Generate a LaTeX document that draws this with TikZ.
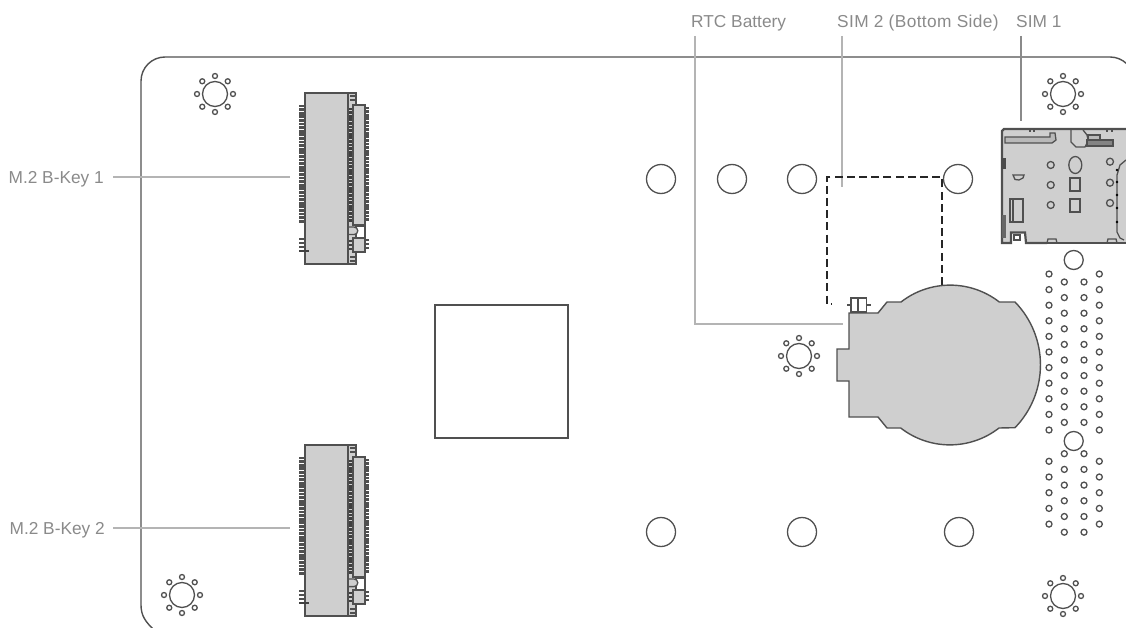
\documentclass[tikz,border=0pt]{standalone}
\usepackage{fontspec}
\setmainfont{Liberation Sans}
\definecolor{lbl}{HTML}{8A8A8A}
\definecolor{lead}{HTML}{B4B4B4}
\definecolor{edge}{HTML}{505050}
\definecolor{comp}{HTML}{CFCFCF}
\definecolor{pin}{HTML}{505050}
\tikzset{
  lab/.style={font=\fontsize{17.3}{19}\selectfont,text=lbl,inner sep=0pt},
  leader/.style={draw=lead,line width=1.4pt},
  boardline/.style={draw=edge,line width=1.4pt},
  hole/.style={draw=edge,line width=1.3pt,fill=white},
  tiny/.style={draw=pin,line width=1.3pt,fill=white},
  part/.style={draw=edge,line width=1.4pt,fill=comp},
  partin/.style={draw=pin,line width=1.3pt},
  pinbar/.style={draw=pin,line width=2.8pt},
  darkbar/.style={draw=black!75,line width=2.8pt},
  hidden/.style={draw=black!85,line width=1.3pt,dash pattern=on 8pt off 4.2pt}
}
\newcommand{\mountpt}[2]{%
  \draw[hole] (#1,#2) circle (12.5);
  \foreach \a in {0,45,...,315}
    \draw[tiny] ({#1+18*cos(\a)},{#2+18*sin(\a)}) circle (2.5);
}
\newcommand{\mtwo}[1]{%
  \begin{scope}[yshift=#1pt]
    \foreach \y in {106,109.6,...,222.5} \draw[pinbar] (299,\y) -- (305,\y);
    \foreach \y in {239,243,247} \draw[pinbar] (299,\y) -- (305,\y);
    \draw[part] (305,93) rectangle (348,264);
    \draw[part] (348,93) rectangle (356,264);
    \foreach \y in {109,112.6,...,224} \draw[darkbar] (349,\y) -- (353,\y);
    \foreach \y in {241,245,249} \draw[darkbar] (349,\y) -- (353,\y);
    \foreach \y in {108,111.6,...,222} \draw[pinbar] (365,\y) -- (369,\y);
    \foreach \y in {240,244,248} \draw[pinbar] (365,\y) -- (369,\y);
    \draw[part] (353,105) rectangle (365,225);
    \draw[part] (353,238) rectangle (365,252);
    \draw[partin,fill=white] (356,226) -- (365,226) -- (365,238) -- (356,238) -- cycle;
    \draw[partin,fill=comp] (349,227) -- (354,227) arc (-90:90:3.8) -- (349,234.6);
    \draw[pinbar] (350,96) -- (355,96);
    \draw[pinbar] (350,100) -- (355,100);
    \draw[pinbar] (350,257) -- (355,257);
    \draw[pinbar] (350,261) -- (355,261);
    \draw[darkbar] (299,251) -- (309,251);
  \end{scope}
}
\begin{document}
\begin{tikzpicture}[x=1pt,y=1pt,yscale=-1]
\useasboundingbox (0,0) rectangle (1126,628);
\begin{scope}
\clip (0,0) rectangle (1126,628);
% board
\draw[boardline] (153,629) .. controls (146,622) and (141,616) .. (141,605) -- (141,81)
  arc[start angle=180,end angle=270,radius=24] -- (1110,57)
  arc[start angle=270,end angle=360,radius=24];

% labels and leaders
\node[lab,anchor=base west] (rtcl) at (691,27.5) {RTC Battery};
\node[lab,anchor=base west] (sim2l) at (837,27.5) {\addfontfeature{LetterSpace=2.2}SIM 2 (Bottom Side)};
\node[lab,anchor=base west] (sim1l) at (1016,27.5) {SIM 1};
\node[lab,anchor=base east] (m1l) at (104,184) {M.2 B-Key 1};
\node[lab,anchor=base east] (m2l) at (105,534) {M.2 B-Key 2};
\coordinate (rtcs) at (695,36);
\coordinate (rtce) at (843,324);
\coordinate (sim2s) at (842,36);
\coordinate (sim2e) at (842,187);
\coordinate (sim1s) at (1021,36);
\coordinate (sim1e) at (1021,121);
\coordinate (m1s) at (113,177);
\coordinate (m1e) at (290,177);
\coordinate (m2s) at (113,528);
\coordinate (m2e) at (290,528);
\draw[leader] (rtcs) |- (rtce);
\draw[leader] (sim2s) -- (sim2e);
\draw[leader,draw=lbl,line width=1.1pt] (sim1s) -- (sim1e);
\draw[leader] (m1s) -- (m1e);
\draw[leader] (m2s) -- (m2e);

% chip
\draw[draw=edge,line width=1.2pt,fill=white] (435,305) rectangle (568,438);

% large holes
\foreach \x/\y in {661/179,732/179,802/179,958/179,661/532,802/532,959/532}
  \draw[hole] (\x,\y) circle (14.5);

% mounts
\mountpt{215}{94}
\mountpt{1063}{94}
\mountpt{799}{356}
\mountpt{182}{595}
\mountpt{1063}{596}

% M.2 connectors
\mtwo{0}
\mtwo{352}

% SIM 2 outline
\draw[hidden] (942,285) -- (942,177) -- (827,177) -- (827,304) -- (831,304);

% battery
\draw[draw=edge,line width=1.1pt] (851,298) rectangle (857.3,312);
\draw[draw=edge,line width=1.1pt] (858.5,298) rectangle (866.7,312);
\draw[draw=edge,line width=1.1pt] (847,305) -- (851,305) (866.7,305) -- (871,305);
\draw[part] (849,313) -- (878,313) -- (887,302) -- (901,302)
  arc[start angle=-127.9,end angle=-52.1,radius=80] -- (1015,302)
  arc[start angle=-44.1,end angle=44.1,radius=90.3] -- (999,428)
  arc[start angle=52.1,end angle=127.9,radius=80] -- (887,428) -- (878,417) -- (849,417)
  -- (849,381) -- (837,381) -- (837,349) -- (849,349) -- cycle;

% header
\foreach \x in {1049,1099.3} {
  \foreach \n in {0,...,10} \draw[tiny] (\x,{274+15.6*\n}) circle (3);
  \foreach \n in {0,...,4} \draw[tiny] (\x,{461.3+15.7*\n}) circle (3);
}
\foreach \x in {1064.3,1084} {
  \foreach \n in {0,...,9} \draw[tiny] (\x,{282+15.6*\n}) circle (3);
  \foreach \n in {0,...,5} \draw[tiny] (\x,{453.7+15.7*\n}) circle (3);
}
\draw[hole] (1073.7,260) circle (9.5);
\draw[hole] (1073.7,441) circle (9.5);

% SIM 1
\fill[comp] (1002,129) rectangle (1127,243);
\fill[white] (1011,232.5) rectangle (1025,244);
\draw[edge,line width=2.2pt] (1127,129) -- (1004,129) -- (1002,131) -- (1002,243) -- (1011,243) -- (1011,232.5) -- (1025,232.5) -- (1026,243) -- (1047,243);
\draw[edge,line width=2.2pt] (1047,243) -- (1127,243);
\draw[partin] (1014,235) rectangle (1020,240);
\fill[black!70] (1001,158) rectangle (1006,169);
\fill[black!60] (1002,215) rectangle (1006,238);
\draw[partin,fill=pin!40] (1005,137) -- (1050,137) -- (1050,133) -- (1055,133) -- (1056,140) -- (1052,143) -- (1005,143) -- cycle;
\draw[partin] (1071,130) -- (1071,142) -- (1076,147) -- (1085,147) -- (1087,143);
\draw[partin] (1083,130) -- (1087,135) -- (1088,140);
\draw[partin,fill=pin!70] (1087,140) rectangle (1113,146);
\draw[partin,fill=pin!40] (1088,135) rectangle (1100,140);
\foreach \x/\y in {1050.7/165,1050.7/185,1050.7/205,1110/161.7,1110/182.7,1110/203}
  \draw[partin] (\x,\y) circle (3.5);
\draw[partin] (1075.3,165) ellipse (6.5 and 8.5);
\draw[partin] (1070,178) rectangle (1080,191);
\draw[partin] (1070,199) rectangle (1080,212);
\draw[partin] (1013,175) -- (1024,175) -- (1023,178) -- (1019,180) -- (1015,179.5) -- cycle;
\draw[partin] (1010,199) rectangle (1023,222);
\draw[partin] (1013,199) -- (1013,222);
\draw[partin] (1126,160) -- (1120,165) -- (1117,175) -- (1117,232) -- (1120,238) -- (1124,240);
\foreach \y in {170,182,195,208,222} \fill[pin] (1117,\y) circle (1.3);
\draw[partin] (1047,243) -- (1048,239) -- (1056,239) -- (1057,243);
\draw[partin] (1107,243) -- (1108,239) -- (1116,239) -- (1117,243);
\draw[pinbar,line width=1.5pt] (1030,129) -- (1030,132) (1034,129) -- (1034,132) (1107,129) -- (1107,132) (1112,129) -- (1112,132);
\end{scope}
\end{tikzpicture}
\end{document}
